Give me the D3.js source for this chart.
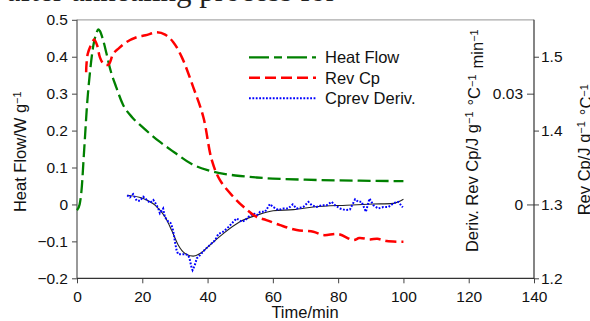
<!DOCTYPE html>
<html>
<head>
<meta charset="utf-8">
<script src="https://cdn.jsdelivr.net/npm/d3@7"></script>
<style>
  body { margin: 0; background: #fff; }
  svg { display: block; font-family: "Liberation Sans", Arial, sans-serif; }
</style>
</head>
<body>
<div id="chart"></div>
<script>
// Heat flow (left axis, W/g)
var hfTime = [0, 0.8, 1.5, 2, 2.5, 3, 4, 5, 6, 6.5, 7, 8, 9, 10, 12, 14, 17, 20, 25, 30, 35, 40, 45, 50, 55, 60, 70, 80, 90, 100];
var hfValue = [-0.016, 0.0, 0.05, 0.12, 0.19, 0.26, 0.36, 0.43, 0.465, 0.474, 0.47, 0.445, 0.41, 0.372, 0.318, 0.272, 0.235, 0.21, 0.172, 0.14, 0.11, 0.093, 0.083, 0.077, 0.073, 0.070, 0.067, 0.065, 0.064, 0.063];

// Reversing Cp (right axis, J/g/C)
var cpTime = [2.8, 3.3, 5.0, 5.3, 6.2, 7.0, 8.1, 9.6, 11.1, 12.7, 15.2, 18.3, 21, 24.4, 27, 29.5, 32.1, 35.6, 38.7, 41.3, 43.8, 47.9, 51, 55, 58, 62.2, 67.3, 72.4, 75.5, 80, 84.7, 86.5, 89.8, 92, 94.9, 100];
var cpValue = [1.479, 1.504, 1.522, 1.5234, 1.515, 1.4995, 1.4905, 1.489, 1.504, 1.511, 1.520, 1.5265, 1.529, 1.533, 1.530, 1.5197, 1.4995, 1.4589, 1.4184, 1.3599, 1.3328, 1.3103, 1.2968, 1.2832, 1.2788, 1.272, 1.2653, 1.263, 1.2585, 1.2599, 1.2518, 1.2545, 1.2527, 1.2535, 1.2504, 1.2495];

// Cp derivative, raw points (inner right axis)
var dvTime = [15.4, 16.2, 17.2, 18.3, 19.3, 20.3, 21.4, 22.4, 23.4, 24.2, 24.9, 25.4, 26.4, 26.9, 28.0, 28.7, 29.3, 29.7, 30.0, 30.5, 31.0, 32.1, 33.1, 34.1, 34.6, 35.1, 35.4, 36.1, 36.7, 37.7, 39.2, 40.7, 42.3, 43.3, 44.8, 46.4, 47.9, 48.9, 50.5, 51.5, 52.5, 54.0, 55.1, 56.1, 57.6, 59.1, 60.1, 61.7, 63.2, 64.7, 66.1, 67.3, 69.3, 70.9, 71.9, 73.4, 75.0, 76.5, 78.0, 79.0, 80.6, 82.1, 83.6, 85.2, 86.2, 87.2, 88.5, 89.6, 90.8, 92.3, 93.8, 95.4, 96.9, 98.4, 99.8];
var dvValue = [0.0025, 0.0019, 0.0028, 0.001, 0.001, 0.0021, 0.0012, 0.0004, 0.0012, 0.0001, -0.0011, -0.0024, -0.0011, -0.0034, -0.0047, -0.0051, -0.0065, -0.0083, -0.0101, -0.0124, -0.0135, -0.0135, -0.0135, -0.0137, -0.0151, -0.0171, -0.0178, -0.0164, -0.0146, -0.0137, -0.0122, -0.011, -0.0097, -0.008, -0.0074, -0.0061, -0.0047, -0.0038, -0.0047, -0.0043, -0.0034, -0.0024, -0.0029, -0.002, -0.002, 0.0001, -0.0007, -0.0015, -0.0011, -0.0011, 0.0, -0.0011, -0.0007, 0.0007, -0.0002, -0.0007, -0.0002, -0.0002, 0.0007, -0.0002, -0.0011, -0.0015, -0.0014, 0.0014, 0.0007, 0.0007, -0.002, 0.0016, -0.0002, -0.0011, -0.0007, -0.0007, 0.0003, 0.0007, -0.0008];

// smoothed fit of the derivative
var fitTime = [15.4, 20.3, 23.9, 27, 29, 31, 33.1, 35.6, 37.7, 40.7, 44.8, 49.9, 55.1, 60.1, 66.3, 72.4, 82.6, 90.8, 96.9, 100];
var fitValue = [0.0025, 0.0016, -0.0002, -0.0034, -0.007, -0.011, -0.0133, -0.014, -0.0133, -0.011, -0.0079, -0.0047, -0.0029, -0.0017, -0.0014, -0.0007, -0.0002, 0.0001, 0.0003, 0.0014];

var xTicks = [0, 20, 40, 60, 80, 100, 120, 140];
var hfTicks = [-0.2, -0.1, 0, 0.1, 0.2, 0.3, 0.4, 0.5];
var cpTicks = [1.2, 1.3, 1.4, 1.5];
var dvTicks = [0, 0.03];
var legendNames = ["Heat Flow", "Rev Cp", "Cprev Deriv."];

var W = 590, H = 321;
var plotLeft = 77, plotRight = 534, plotTop = 19.8, plotBottom = 278.3;

var svg = d3.select("#chart").append("svg")
    .attr("width", W)
    .attr("height", H);

// cut-off caption from the page above
svg.append("text").attr("x", 176).attr("y", 1).attr("text-anchor", "end")
    .style("font-family", "Liberation Serif, serif").style("font-size", "31px").attr("fill", "#222")
    .text("temperature after annealin");
svg.append("text").attr("x", 176).attr("y", 1)
    .style("font-family", "Liberation Serif, serif").style("font-size", "31px").attr("fill", "#222")
    .text("g process for");

var x = d3.scaleLinear().domain([0, 140]).range([plotLeft, plotRight]);
var yHF = d3.scaleLinear().domain([-0.2, 0.5]).range([plotBottom, plotTop]);
var yCp = d3.scaleLinear().domain([1.2, 1.55]).range([plotBottom, plotTop]);
var yDv = d3.scaleLinear().domain([-0.02, 0.05]).range([plotBottom, plotTop]);

function fmt1(d) { return d === 0 ? "0" : d3.format(".1f")(d); }

// axes
var gx = svg.append("g").attr("transform", "translate(0," + plotBottom + ")")
    .call(d3.axisBottom(x).tickValues(xTicks).tickSize(5).tickSizeOuter(0).tickFormat(d3.format("d")));
var gl = svg.append("g").attr("transform", "translate(" + plotLeft + ",0)")
    .call(d3.axisLeft(yHF).tickValues(hfTicks).tickSize(5).tickSizeOuter(0).tickFormat(fmt1));
var gr = svg.append("g").attr("transform", "translate(" + plotRight + ",0)")
    .call(d3.axisRight(yCp).tickValues(cpTicks).tickSize(5).tickSizeOuter(0).tickFormat(d3.format(".1f")));
var gd = svg.append("g").attr("transform", "translate(" + plotRight + ",0)")
    .call(d3.axisLeft(yDv).tickValues(dvTicks).tickSize(7).tickSizeOuter(0).tickFormat(function(d) { return d === 0 ? "0" : d3.format(".2f")(d); }));

[gx, gl, gr, gd].forEach(function(g) {
  g.select(".domain").remove();
  g.selectAll(".tick line").attr("stroke", "#444");
  g.selectAll(".tick text").attr("fill", "#111").style("font-size", "15.5px").style("font-family", "Liberation Sans, Arial, sans-serif");
});
gx.selectAll(".tick text").attr("dy", "1.0em");
gl.selectAll(".tick text").attr("x", -9);
gr.selectAll(".tick text").attr("x", 7);
gd.selectAll(".tick text").attr("x", -11);

// frame
svg.append("line").attr("x1", plotLeft).attr("x2", plotRight).attr("y1", plotTop).attr("y2", plotTop).attr("stroke", "#aaa").attr("stroke-width", 1.2);
svg.append("line").attr("x1", plotLeft).attr("x2", plotLeft).attr("y1", plotTop).attr("y2", plotBottom).attr("stroke", "#555").attr("stroke-width", 1.2);
svg.append("line").attr("x1", plotRight).attr("x2", plotRight).attr("y1", plotTop).attr("y2", plotBottom).attr("stroke", "#333").attr("stroke-width", 1.2);
svg.append("line").attr("x1", plotLeft).attr("x2", plotRight).attr("y1", plotBottom).attr("y2", plotBottom).attr("stroke", "#333").attr("stroke-width", 1.2);

// series
var hfData = hfTime.map(function(t, i) { return [t, hfValue[i]]; });
var cpData = cpTime.map(function(t, i) { return [t, cpValue[i]]; });
var dvData = dvTime.map(function(t, i) { return [t, dvValue[i]]; });
var fitData = fitTime.map(function(t, i) { return [t, fitValue[i]]; });

svg.append("path").datum(fitData)
    .attr("fill", "none").attr("stroke", "#222").attr("stroke-width", 1.1)
    .attr("d", d3.line().x(function(d) { return x(d[0]); }).y(function(d) { return yDv(d[1]); }).curve(d3.curveMonotoneX));

svg.append("path").datum(dvData)
    .attr("fill", "none").attr("stroke", "#0000ff").attr("stroke-width", 2)
    .attr("stroke-dasharray", "1.8,1.6")
    .attr("d", d3.line().x(function(d) { return x(d[0]); }).y(function(d) { return yDv(d[1]); }));

svg.append("path").datum(hfData)
    .attr("fill", "none").attr("stroke", "#008000").attr("stroke-width", 2.3)
    .attr("stroke-dasharray", "13,5")
    .attr("d", d3.line().x(function(d) { return x(d[0]); }).y(function(d) { return yHF(d[1]); }).curve(d3.curveMonotoneX));

svg.append("path").datum(cpData)
    .attr("fill", "none").attr("stroke", "#ff0000").attr("stroke-width", 2.5)
    .attr("stroke-dasharray", "11,5")
    .attr("d", d3.line().x(function(d) { return x(d[0]); }).y(function(d) { return yCp(d[1]); }).curve(d3.curveCatmullRom));

// legend
var legStyles = [
  {color: "#008000", dash: "20,5,8,5", width: 2.3},
  {color: "#ff0000", dash: "11,5", width: 2.5},
  {color: "#0000ff", dash: "1.8,1.6", width: 2}
];
legendNames.forEach(function(name, i) {
  var yy = 57.3 + i * 20.5;
  svg.append("line").attr("x1", 249).attr("x2", 316).attr("y1", yy).attr("y2", yy)
      .attr("stroke", legStyles[i].color).attr("stroke-width", legStyles[i].width)
      .attr("stroke-dasharray", legStyles[i].dash);
  svg.append("text").attr("x", 325).attr("y", yy + 6)
      .style("font-size", "16.5px").attr("fill", "#111").text(name);
});

// axis titles
function sup(t, s) {
  t.append("tspan").attr("dy", "-0.45em").style("font-size", "11px").text(s);
  t.append("tspan").attr("dy", "0.45em").text("\u200a");
}

svg.append("text").attr("x", 305).attr("y", 318).attr("text-anchor", "middle")
    .style("font-size", "16.5px").attr("fill", "#111").text("Time/min");

var tl = svg.append("text").attr("transform", "translate(26,151) rotate(-90)")
    .attr("text-anchor", "middle").style("font-size", "16.5px").attr("fill", "#111");
tl.append("tspan").text("Heat Flow/W g");
sup(tl, "\u22121");

var td = svg.append("text").attr("transform", "translate(478,140) rotate(-90)")
    .attr("text-anchor", "middle").style("font-size", "16.5px").attr("fill", "#111");
td.append("tspan").text("Deriv. Rev Cp/J g");
sup(td, "\u22121");
td.append("tspan").text(" \u00b0C");
sup(td, "\u22121");
td.append("tspan").text(" min");
sup(td, "\u22121");

var tr = svg.append("text").attr("transform", "translate(590,149) rotate(-90)")
    .attr("text-anchor", "middle").style("font-size", "16.5px").attr("fill", "#111");
tr.append("tspan").text("Rev Cp/J g");
sup(tr, "\u22121");
tr.append("tspan").text(" \u00b0C");
sup(tr, "\u22121");
</script>
</body>
</html>
